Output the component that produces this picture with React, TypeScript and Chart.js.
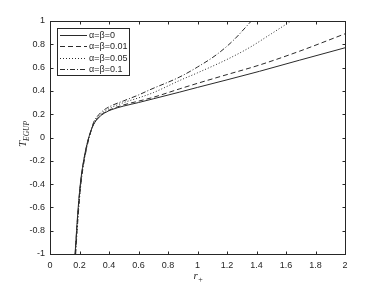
import React, { useEffect, useRef } from "react";
import { Chart, registerables } from "chart.js";

Chart.register(...registerables);

// ---- data ----
const seriesLabels = ["α=β=0", "α=β=0.01", "α=β=0.05", "α=β=0.1"];

const r0 = [0.170, 0.180, 0.190, 0.200, 0.210, 0.220, 0.235, 0.250, 0.270, 0.295, 0.330, 0.370, 0.420, 0.500, 0.600, 0.700, 0.880, 1.000, 1.200, 1.420, 1.690, 2.000];
const t0 = [-1.00, -0.80, -0.62, -0.47, -0.35, -0.26, -0.15, -0.06, 0.030, 0.110, 0.170, 0.210, 0.240, 0.270, 0.300, 0.332, 0.390, 0.430, 0.495, 0.568, 0.663, 0.770];

const r1 = [0.171, 0.181, 0.191, 0.201, 0.211, 0.221, 0.236, 0.251, 0.271, 0.295, 0.330, 0.370, 0.420, 0.500, 0.600, 0.700, 0.880, 1.000, 1.200, 1.420, 1.690, 2.000];
const t1 = [-1.00, -0.80, -0.62, -0.47, -0.35, -0.26, -0.15, -0.06, 0.032, 0.113, 0.175, 0.215, 0.245, 0.280, 0.312, 0.345, 0.418, 0.465, 0.540, 0.622, 0.740, 0.890];

const r2 = [0.172, 0.182, 0.192, 0.202, 0.212, 0.222, 0.237, 0.252, 0.272, 0.295, 0.330, 0.370, 0.420, 0.500, 0.600, 0.700, 0.880, 1.000, 1.200, 1.350, 1.500, 1.635];
const t2 = [-1.00, -0.80, -0.62, -0.47, -0.35, -0.26, -0.15, -0.06, 0.035, 0.120, 0.185, 0.225, 0.260, 0.300, 0.340, 0.385, 0.490, 0.555, 0.670, 0.770, 0.890, 1.000];

const r3 = [0.174, 0.184, 0.194, 0.204, 0.214, 0.224, 0.239, 0.254, 0.274, 0.295, 0.330, 0.370, 0.420, 0.500, 0.600, 0.678, 0.880, 1.000, 1.128, 1.240, 1.365];
const t3 = [-1.00, -0.80, -0.62, -0.47, -0.35, -0.26, -0.15, -0.06, 0.038, 0.128, 0.195, 0.240, 0.275, 0.315, 0.365, 0.410, 0.520, 0.605, 0.710, 0.830, 1.000];

const xTickValues = [0, 0.2, 0.4, 0.6, 0.8, 1, 1.2, 1.4, 1.6, 1.8, 2];
const yTickValues = [-1, -0.8, -0.6, -0.4, -0.2, 0, 0.2, 0.4, 0.6, 0.8, 1];

const dashes: number[][] = [[], [5, 3], [1, 2], [5, 2, 1, 2]];

const AXIS = "#262626";
const LINE = "#2a2a2a";
const FONT = "'Liberation Sans', Arial, sans-serif";
const SERIF = "'Liberation Serif', 'Times New Roman', serif";

const fmt = (v: number) => String(Math.round(v * 10) / 10);

const framePlugin = {
  id: "matlabFrame",
  afterDraw(chart: any) {
    const { ctx, chartArea: a, scales } = chart;
    const L = Math.round(a.left) + 0.5;
    const R = Math.round(a.right) + 0.5;
    const T = Math.round(a.top) + 0.5;
    const B = Math.round(a.bottom) + 0.5;
    ctx.save();
    ctx.strokeStyle = AXIS;
    ctx.lineWidth = 1;
    ctx.setLineDash([]);
    ctx.strokeRect(L, T, R - L, B - T);
    const tl = 3;
    ctx.beginPath();
    xTickValues.forEach((v) => {
      const x = Math.round(scales.x.getPixelForValue(v)) + 0.5;
      ctx.moveTo(x, B); ctx.lineTo(x, B - tl);
      ctx.moveTo(x, T); ctx.lineTo(x, T + tl);
    });
    yTickValues.forEach((v) => {
      const y = Math.round(scales.y.getPixelForValue(v)) + 0.5;
      ctx.moveTo(L, y); ctx.lineTo(L + tl, y);
      ctx.moveTo(R, y); ctx.lineTo(R - tl, y);
    });
    ctx.stroke();

    // legend
    const bx = 57.5, by = 28.5, bw = 72, bh = 47;
    ctx.fillStyle = "#fff";
    ctx.fillRect(bx, by, bw, bh);
    ctx.strokeStyle = AXIS;
    ctx.strokeRect(bx, by, bw, bh);
    ctx.font = `9px ${FONT}`;
    ctx.textBaseline = "middle";
    ctx.textAlign = "left";
    seriesLabels.forEach((lab, i) => {
      const y = Math.round(by + 6.5 + i * 11.3) + 0.5;
      ctx.strokeStyle = LINE;
      ctx.setLineDash(dashes[i]);
      ctx.beginPath();
      ctx.moveTo(60, y);
      ctx.lineTo(87, y);
      ctx.stroke();
      ctx.setLineDash([]);
      ctx.fillStyle = AXIS;
      ctx.fillText(lab, 89, y);
    });

    // x axis title r_+
    ctx.fillStyle = AXIS;
    ctx.textBaseline = "alphabetic";
    ctx.font = `italic 11px ${SERIF}`;
    const xt = (a.left + a.right) / 2 - 4;
    ctx.fillText("r", xt, 279);
    const rw = ctx.measureText("r").width;
    ctx.font = `8px ${SERIF}`;
    ctx.fillText("+", xt + rw + 0.5, 282);

    // y axis title T_EGUP
    ctx.translate(26, 147);
    ctx.rotate(-Math.PI / 2);
    ctx.font = `italic 11px ${SERIF}`;
    ctx.fillText("T", 0, 0);
    const tw = ctx.measureText("T").width;
    ctx.font = `italic 7.5px ${SERIF}`;
    ctx.fillText("EGUP", tw, 3);
    ctx.restore();
  },
};

function toPoints(xs: number[], ys: number[]) {
  return xs.map((x, i) => ({ x, y: ys[i] }));
}

export default function App() {
  const ref = useRef<HTMLCanvasElement | null>(null);
  useEffect(() => {
    document.body.style.margin = "0";
    const canvas = ref.current!;
    const rs = [r0, r1, r2, r3];
    const ts = [t0, t1, t2, t3];
    const chart = new Chart(canvas, {
      type: "line",
      data: {
        datasets: seriesLabels.map((lab, i) => ({
          label: lab,
          data: toPoints(rs[i], ts[i]),
          borderColor: LINE,
          borderWidth: 1,
          borderDash: dashes[i],
          pointRadius: 0,
          fill: false,
          cubicInterpolationMode: "monotone" as const,
        })),
      },
      options: {
        animation: false,
        responsive: false,
        devicePixelRatio: 1,
        layout: { padding: { left: 0, top: 21, right: 37, bottom: 0 } },
        plugins: { legend: { display: false }, tooltip: { enabled: false } },
        scales: {
          x: {
            type: "linear",
            min: 0,
            max: 2,
            grid: { display: false, drawTicks: false },
            border: { display: false },
            afterBuildTicks: (s: any) => { s.ticks = xTickValues.map((v) => ({ value: v })); },
            afterFit: (s: any) => { s.height = 32; },
            ticks: {
              color: AXIS,
              font: { family: FONT, size: 9 },
              padding: 6,
              maxRotation: 0,
              autoSkip: false,
              callback: (v: any) => fmt(Number(v)),
            },
          },
          y: {
            type: "linear",
            min: -1,
            max: 1,
            grid: { display: false, drawTicks: false },
            border: { display: false },
            afterBuildTicks: (s: any) => { s.ticks = yTickValues.map((v) => ({ value: v })); },
            afterFit: (s: any) => { s.width = 50; },
            ticks: {
              color: AXIS,
              font: { family: FONT, size: 9 },
              padding: 5,
              autoSkip: false,
              callback: (v: any) => fmt(Number(v)),
            },
          },
        },
      },
      plugins: [framePlugin],
    });
    return () => chart.destroy();
  }, []);
  return (
    <div style={{ width: 382, height: 286, background: "#fff" }}>
      <canvas ref={ref} width={382} height={286} style={{ display: "block", width: 382, height: 286 }} />
    </div>
  );
}
